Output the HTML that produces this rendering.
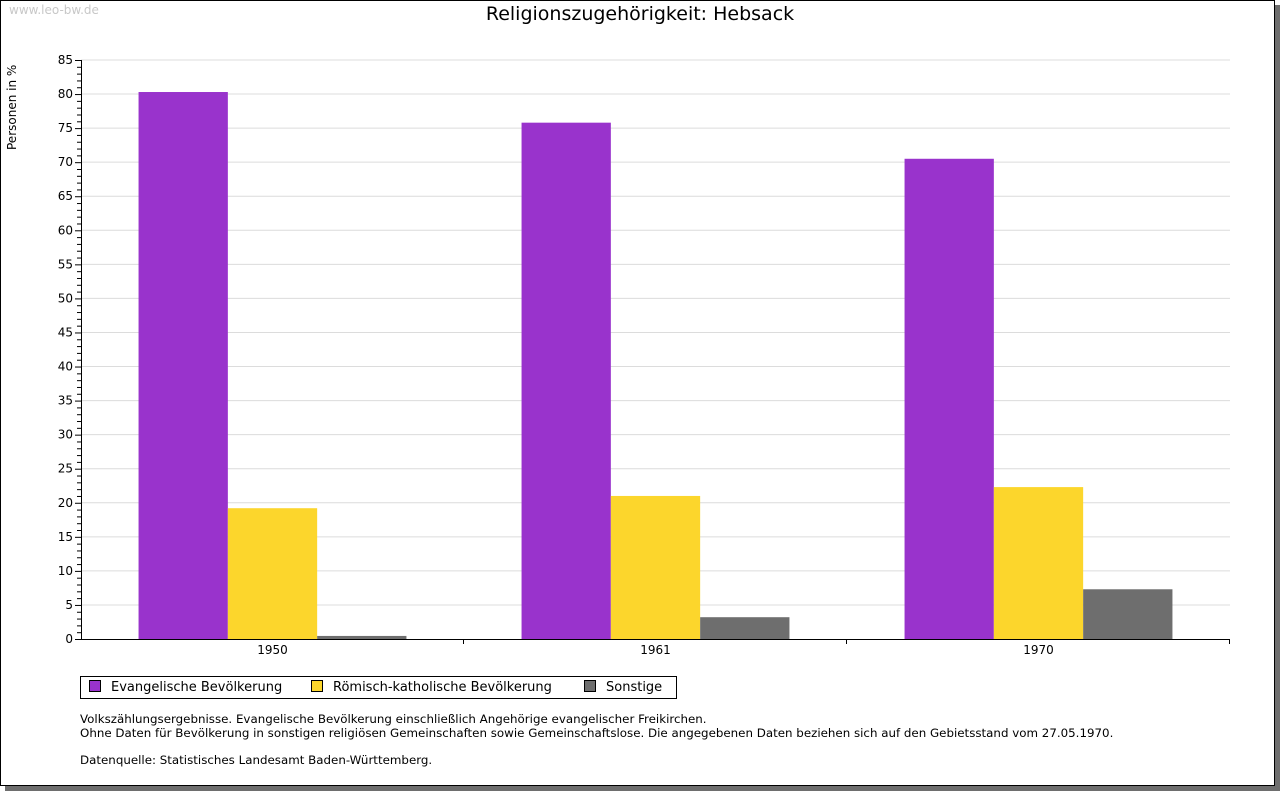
<!DOCTYPE html>
<html><head><meta charset="utf-8"><style>
body{margin:0;background:#fff;width:1280px;height:791px;overflow:hidden;font-family:"DejaVu Sans","Liberation Sans",sans-serif}
#frame{position:absolute;left:0;top:0;width:1273px;height:784px;border:1px solid #000;background:#fff;box-shadow:5px 5px 0 #6e6e6e}
.t{position:absolute;white-space:nowrap}
</style></head><body>
<div id="frame"></div>
<div class="t" style="left:9px;top:3px;font-size:12px;color:#c8c8c8">www.leo-bw.de</div>
<div class="t" style="left:0;width:1280px;text-align:center;top:3px;font-size:19px;color:#000">Religionszugehörigkeit: Hebsack</div>
<svg id="c" width="1280" height="791" style="position:absolute;left:0;top:0"></svg>
<div style="position:absolute;left:80px;top:676px;width:595px;height:21px;border:1px solid #000;font-size:13px;color:#000">
<span class="t" style="left:8px;top:3px"><span style="display:inline-block;width:10px;height:10px;border:1px solid #000;background:#9933cc;margin-right:10px;vertical-align:-1px"></span>Evangelische Bevölkerung</span>
<span class="t" style="left:230px;top:3px"><span style="display:inline-block;width:10px;height:10px;border:1px solid #000;background:#fcd62c;margin-right:10px;vertical-align:-1px"></span>Römisch-katholische Bevölkerung</span>
<span class="t" style="left:503px;top:3px"><span style="display:inline-block;width:10px;height:10px;border:1px solid #000;background:#6e6e6e;margin-right:10px;vertical-align:-1px"></span>Sonstige</span>
</div>
<div class="t" style="left:80px;top:713px;font-size:11.85px;line-height:13.5px;color:#000">Volkszählungsergebnisse. Evangelische Bevölkerung einschließlich Angehörige evangelischer Freikirchen.<br>Ohne Daten für Bevölkerung in sonstigen religiösen Gemeinschaften sowie Gemeinschaftslose. Die angegebenen Daten beziehen sich auf den Gebietsstand vom 27.05.1970.<br><br>Datenquelle: Statistisches Landesamt Baden-Württemberg.</div>
<script>
const categories=["1950","1961","1970"];
const evangelisch=[80.3,75.8,70.5];
const katholisch=[19.2,21.0,22.3];
const sonstige=[0.45,3.2,7.3];
const yTicks=[0,5,10,15,20,25,30,35,40,45,50,55,60,65,70,75,80,85];
const colors=["#9933cc","#fcd62c","#6e6e6e"];
const svg=document.getElementById('c');
const NS="http://www.w3.org/2000/svg";
const X0=81,X1=1230,Y0=639,Y1=60,YMAX=85;
const y=v=>Y0-(v/YMAX)*(Y0-Y1);
const gw=(X1-X0)/categories.length;
function el(t,a){const e=document.createElementNS(NS,t);for(const k in a)e.setAttribute(k,a[k]);svg.appendChild(e);return e;}
yTicks.forEach(v=>{
 if(v>0){const g=el('line',{x1:X0,x2:X1,y1:y(v),y2:y(v),stroke:'#dcdcdc'});
 
 }
 const t=el('text',{x:X0-8,y:y(v)+4,'text-anchor':'end','font-size':12,'font-family':'DejaVu Sans,Liberation Sans,sans-serif'});t.textContent=v;
 
 
});
for(let v=0;v<=YMAX;v++){el('line',{x1:X0-(v%5?4:6),x2:X0,y1:y(v)+.5,y2:y(v)+.5,stroke:'#000'});}
const series=[evangelisch,katholisch,sonstige];
const names=['bar-evangelisch','bar-katholisch','bar-sonstige'];
categories.forEach((c,i)=>{
 const cx=X0+gw*(i+0.5), bw=89.3;
 series.forEach((s,j)=>{
  const r=el('rect',{x:cx-1.5*bw+j*bw,y:y(s[i]),width:bw,height:Y0-y(s[i]),fill:colors[j]});
  
  
 });
 const t=el('text',{x:cx,y:Y0+15,'text-anchor':'middle','font-size':12,'font-family':'DejaVu Sans,Liberation Sans,sans-serif'});t.textContent=c;
 
 
 el('line',{x1:X0+gw*(i+1)-.5,x2:X0+gw*(i+1)-.5,y1:Y0,y2:Y0+5,stroke:'#000'});
});
const ax=el('line',{x1:X0+.5,x2:X0+.5,y1:Y1,y2:Y0,stroke:'#000'});


const bx=el('line',{x1:X0,x2:X1,y1:Y0+.5,y2:Y0+.5,stroke:'#000'});


const yt=el('text',{x:0,y:0,transform:'translate(16,150) rotate(-90)','font-size':12,'font-family':'DejaVu Sans,Liberation Sans,sans-serif'});yt.textContent='Personen in %';


</script>
</body></html>
